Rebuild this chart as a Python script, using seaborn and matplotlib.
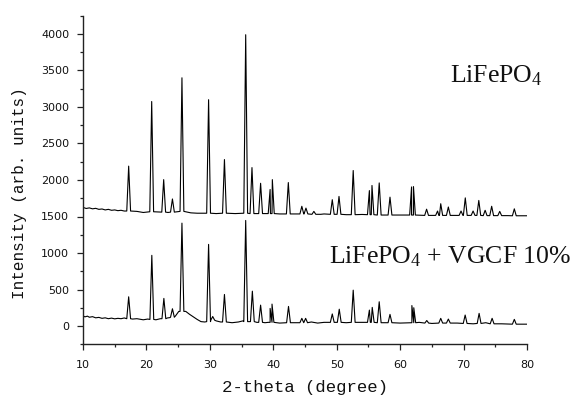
import matplotlib
matplotlib.use("Agg")
import matplotlib.pyplot as plt
import numpy as np
import pandas as pd
import seaborn as sns
from matplotlib.ticker import MultipleLocator

# ---------------- data ----------------
# LiFePO4 (upper trace): peak positions (2-theta), peak tops and local base levels
upper_peak_pos = [17.2, 20.83, 22.72, 24.1, 25.6, 29.8, 32.3, 35.65, 36.64, 38.0,
                  39.5, 39.85, 42.37, 44.5, 45.15, 46.4, 49.3, 50.36, 52.6, 55.15,
                  55.56, 56.7, 58.4, 61.8, 62.1, 64.17, 65.9, 66.4, 67.6, 69.6,
                  70.27, 71.5, 72.4, 73.4, 74.43, 75.7, 78.0]
upper_peak_top = [2190, 3075, 2005, 1740, 3400, 3100, 2280, 3990, 2170, 1955,
                  1870, 2005, 1965, 1640, 1615, 1570, 1730, 1775, 2130, 1855,
                  1925, 1960, 1765, 1905, 1910, 1600, 1575, 1675, 1630, 1575,
                  1755, 1575, 1720, 1585, 1640, 1570, 1605]
upper_peak_base = [1575, 1565, 1560, 1560, 1570, 1545, 1545, 1545, 1540, 1540,
                   1540, 1540, 1535, 1535, 1535, 1530, 1530, 1530, 1525, 1525,
                   1525, 1520, 1520, 1520, 1520, 1515, 1515, 1515, 1515, 1515,
                   1515, 1515, 1515, 1512, 1512, 1512, 1510]
upper_bg_x = [10, 10.5, 11, 11.5, 12, 12.5, 13, 13.5, 14, 14.5, 15, 15.5, 16, 16.5,
              18.5, 19.5, 23.4, 27, 28, 31, 34, 41, 47.5, 48, 51.5, 54, 60, 63,
              68.5, 77, 80]
upper_bg_y = [1625, 1610, 1618, 1605, 1612, 1598, 1603, 1590, 1598, 1585, 1590, 1580,
              1585, 1575, 1570, 1555, 1555, 1550, 1545, 1540, 1540, 1535, 1530, 1535,
              1525, 1528, 1520, 1518, 1515, 1512, 1510]

# LiFePO4 + VGCF 10% (lower trace)
lower_peak_pos = [17.2, 20.85, 22.75, 24.1, 25.6, 29.8, 30.45, 32.3, 35.65, 36.7,
                  38.0, 39.5, 39.8, 42.4, 44.5, 45.1, 49.3, 50.4, 52.6, 55.15,
                  55.6, 56.7, 58.4, 61.85, 62.15, 64.2, 66.4, 67.6, 70.25, 72.45,
                  74.5, 78.0]
lower_peak_top = [400, 968, 378, 236, 1409, 1118, 130, 432, 1446, 477,
                  286, 241, 300, 268, 105, 105, 165, 230, 491, 218,
                  255, 332, 159, 280, 250, 75, 105, 95, 150, 173,
                  105, 91]
lower_peak_base = [100, 90, 100, 120, 200, 60, 80, 55, 60, 60,
                   50, 50, 50, 45, 45, 45, 50, 50, 50, 50,
                   50, 45, 45, 45, 45, 40, 40, 40, 35, 35,
                   30, 25]
lower_bg_x = [10, 10.3, 10.7, 11, 11.5, 12, 12.5, 13, 13.5, 14, 14.5, 15, 15.5, 16,
              16.5, 17.8, 18.5, 19.5, 20.2, 21.5, 22.2, 23.3, 23.7, 24.6, 25.1,
              26.2, 26.8, 27.5, 28, 28.6, 29.2, 31, 31.7, 33.5, 34.5, 35.2, 37.4,
              38.7, 41, 43, 46, 47, 48, 51.5, 54, 57.5, 60, 63, 65, 69, 71.5,
              73.5, 76, 80]
lower_bg_y = [140, 125, 135, 120, 128, 112, 118, 105, 112, 100, 108, 98, 105, 100,
              110, 95, 100, 85, 95, 85, 100, 110, 115, 140, 200,
              200, 160, 120, 90, 60, 55, 70, 55, 45, 55, 70, 50,
              45, 40, 45, 55, 40, 50, 45, 50, 45, 40, 50, 35, 40, 30,
              45, 30, 25]

series_names = ["LiFePO$_4$", "LiFePO$_4$ + VGCF 10%"]
x_ticks = [10, 20, 30, 40, 50, 60, 70, 80]
y_ticks = [0, 500, 1000, 1500, 2000, 2500, 3000, 3500, 4000]
x_label = "2-theta (degree)"
y_label = "Intensity (arb. units)"

# ---------------- build traces ----------------
HALF_W = 0.3


def build_trace(pos, top, base, bgx, bgy):
    pts = []
    for p, t, b in zip(pos, top, base):
        pts += [(p - HALF_W, b), (p, t), (p + HALF_W, b)]
    for x, y in zip(bgx, bgy):
        if all(abs(x - p) > HALF_W + 0.02 for p in pos):
            pts.append((x, y))
    pts.sort()
    return pts


frames = []
for name, args in zip(series_names,
                      [(upper_peak_pos, upper_peak_top, upper_peak_base, upper_bg_x, upper_bg_y),
                       (lower_peak_pos, lower_peak_top, lower_peak_base, lower_bg_x, lower_bg_y)]):
    pts = build_trace(*args)
    frames.append(pd.DataFrame({"x": [p[0] for p in pts],
                                "y": [p[1] for p in pts],
                                "series": name}))
df = pd.concat(frames, ignore_index=True)

# ---------------- plot ----------------
sns.set_theme(style="ticks")
plt.rcParams["mathtext.fontset"] = "custom"
plt.rcParams["mathtext.rm"] = "Liberation Serif"
plt.rcParams["mathtext.it"] = "Liberation Serif:italic"
plt.rcParams["font.family"] = ["DejaVu Sans"]

fig = plt.figure(figsize=(5.77, 3.97), dpi=100)
ax = fig.add_axes([83 / 577, (397 - 344.25) / 397, 444 / 577, 328.5 / 397])

sns.lineplot(data=df, x="x", y="y", hue="series", units="series", estimator=None,
             palette=["black", "black"], linewidth=0.8, legend=False, sort=False, ax=ax)

ax.set_xlim(10, 80)
ax.set_ylim(-250, 4250)
ax.set_xticks(x_ticks)
ax.set_yticks(y_ticks)
ax.xaxis.set_minor_locator(MultipleLocator(5))
ax.yaxis.set_minor_locator(MultipleLocator(250))
for s in ["top", "right"]:
    ax.spines[s].set_visible(False)
for s in ["left", "bottom"]:
    ax.spines[s].set_color("#222222")
    ax.spines[s].set_linewidth(1.0)
ax.tick_params(which="major", direction="out", length=4, width=0.9, color="#222222",
               labelsize=8, labelcolor="#111111")
ax.tick_params(which="minor", direction="out", length=2.5, width=0.9, color="#222222")
ax.tick_params(axis="x", which="major", pad=7)
ax.tick_params(axis="y", which="major", pad=6)

ax.set_xlabel(x_label, family="Liberation Mono", fontsize=12.5, color="#111111")
ax.set_ylabel(y_label, family="Liberation Mono", fontsize=11.5, color="#111111")
ax.xaxis.set_label_coords(0.5, -0.11)
ax.yaxis.set_label_coords(-0.125, 0.46)

ax.text(67.86, 3340, series_names[0], family="Liberation Serif", fontsize=18.5,
        ha="left", va="baseline", color="#111111")
ax.text(48.78, 863, series_names[1], family="Liberation Serif", fontsize=18.5,
        ha="left", va="baseline", color="#111111")

fig.savefig("out.png", dpi=100)
